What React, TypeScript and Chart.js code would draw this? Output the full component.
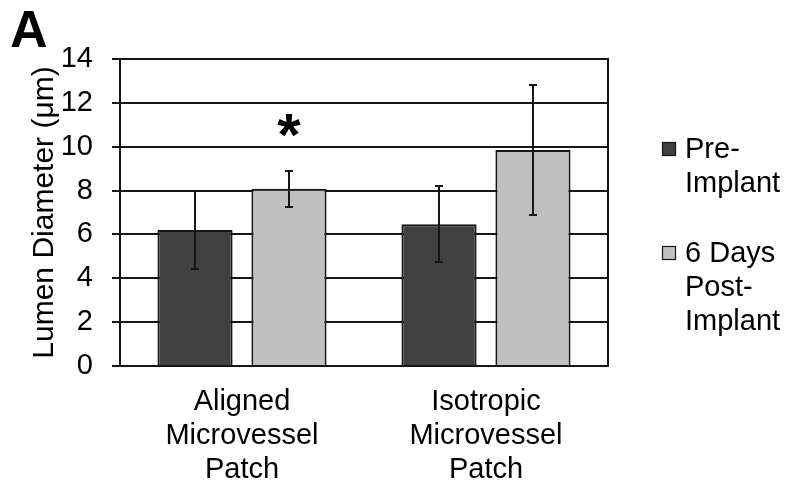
import React, { useEffect, useRef } from "react";
import { Chart, registerables } from "chart.js";

Chart.register(...registerables);

const categories: string[][] = [
  ["Aligned", "Microvessel", "Patch"],
  ["Isotropic", "Microvessel", "Patch"],
];
const seriesNames: string[][] = [["Pre-", "Implant"], ["6 Days", "Post-", "Implant"]];
const preImplant = [6.2, 6.46];
const postImplant = [8.08, 9.85];
const preErr = [1.77, 1.73];
const postErr = [0.82, 2.97];
const yMin = 0;
const yMax = 14;
const yStep = 2;
const yTitle = "Lumen Diameter (μm)";
const panelLabel = "A";
const significance = { dataset: 1, index: 0, mark: "*" };

const FONT = "'Liberation Sans', Arial, Helvetica, sans-serif";
const DARK = "#404040";
const LIGHT = "#c0c0c0";
const LINE = "#161616";

const errors = [preErr, postErr];

const extrasPlugin = {
  id: "extras",
  afterDatasetsDraw(chart: any) {
    const ctx = chart.ctx;
    const area = chart.chartArea;
    const yScale = chart.scales.y;
    ctx.save();
    // right border of plot
    ctx.strokeStyle = LINE;
    ctx.lineWidth = 2;
    ctx.beginPath();
    ctx.moveTo(Math.round(area.right), area.top - 1);
    ctx.lineTo(Math.round(area.right), area.bottom + 1);
    ctx.stroke();
    // error bars
    ctx.lineWidth = 2;
    chart.data.datasets.forEach((ds: any, di: number) => {
      const meta = chart.getDatasetMeta(di);
      meta.data.forEach((bar: any, i: number) => {
        const v = ds.data[i];
        const e = errors[di][i];
        const x = Math.round(bar.x);
        const yt = Math.round(yScale.getPixelForValue(v + e));
        const yb = Math.round(yScale.getPixelForValue(v - e));
        ctx.beginPath();
        ctx.moveTo(x, yt);
        ctx.lineTo(x, yb);
        ctx.moveTo(x - 4, yt);
        ctx.lineTo(x + 4, yt);
        ctx.moveTo(x - 4, yb);
        ctx.lineTo(x + 4, yb);
        ctx.stroke();
      });
    });
    // significance asterisk
    {
      const meta = chart.getDatasetMeta(significance.dataset);
      const bar = meta.data[significance.index];
      const v = chart.data.datasets[significance.dataset].data[significance.index];
      const e = errors[significance.dataset][significance.index];
      const yTop = yScale.getPixelForValue(v + e);
      ctx.fillStyle = "#000";
      ctx.font = `bold 60px ${FONT}`;
      ctx.textAlign = "center";
      ctx.textBaseline = "alphabetic";
      ctx.fillText(significance.mark, bar.x, yTop - 16);
    }
    // legend
    const colors = [DARK, LIGHT];
    const sqX = area.right + 54;
    const txtX = area.right + 77;
    const itemTops = [area.top + 83, area.top + 187];
    ctx.font = `29px ${FONT}`;
    ctx.textAlign = "left";
    ctx.textBaseline = "alphabetic";
    seriesNames.forEach((lines, k) => {
      const top = itemTops[k];
      ctx.fillStyle = colors[k];
      ctx.fillRect(sqX, top, 14, 14);
      ctx.strokeStyle = LINE;
      ctx.lineWidth = 1.2;
      ctx.strokeRect(sqX + 0.5, top + 0.5, 13, 13);
      ctx.fillStyle = "#000";
      lines.forEach((t, li) => {
        ctx.fillText(t, txtX, top + 15.5 + li * 34.4);
      });
    });
    // panel letter
    ctx.font = `bold 52px ${FONT}`;
    ctx.fillStyle = "#000";
    ctx.textAlign = "left";
    ctx.fillText(panelLabel, 10, 46.5);
    ctx.restore();
  },
};

export default function App() {
  const ref = useRef<HTMLCanvasElement | null>(null);
  useEffect(() => {
    document.body.style.margin = "0";
    const canvas = ref.current;
    if (!canvas) return;
    const chart = new Chart(canvas, {
      type: "bar",
      data: {
        labels: categories,
        datasets: [
          {
            label: seriesNames[0].join(" "),
            data: preImplant,
            backgroundColor: DARK,
            borderColor: LINE,
            borderWidth: 2,
            categoryPercentage: 0.77,
            barPercentage: 0.8,
          },
          {
            label: seriesNames[1].join(" "),
            data: postImplant,
            backgroundColor: LIGHT,
            borderColor: LINE,
            borderWidth: 2,
            categoryPercentage: 0.77,
            barPercentage: 0.8,
          },
        ],
      },
      options: {
        responsive: false,
        animation: false,
        devicePixelRatio: 1,
        layout: { padding: { left: 0, right: 180, top: 59, bottom: 0 } },
        plugins: {
          legend: { display: false },
          tooltip: { enabled: false },
        },
        scales: {
          x: {
            grid: { display: false },
            border: { display: true, color: LINE, width: 2 },
            ticks: {
              color: "#000",
              font: { family: FONT, size: 29, lineHeight: 1.17 },
              padding: 11,
              maxRotation: 0,
              autoSkip: false,
            },
            afterFit(scale: any) {
              scale.height = 123;
            },
          },
          y: {
            min: yMin,
            max: yMax,
            ticks: {
              stepSize: yStep,
              color: "#000",
              font: { family: FONT, size: 29 },
              padding: 19,
            },
            grid: {
              color: LINE,
              lineWidth: 2,
              tickLength: 8,
              tickColor: LINE,
              drawTicks: true,
            },
            border: { display: true, color: LINE, width: 2 },
            title: {
              display: true,
              text: yTitle,
              color: "#000",
              font: { family: FONT, size: 30, lineHeight: 1.2 },
              padding: { top: 27, bottom: 0 },
            },
            afterFit(scale: any) {
              scale.width = 120;
            },
          },
        },
      },
      plugins: [extrasPlugin],
    });
    return () => chart.destroy();
  }, []);
  return (
    <div style={{ width: 788, height: 489, background: "#fff" }}>
      <canvas ref={ref} width={788} height={489} style={{ display: "block" }} />
    </div>
  );
}
